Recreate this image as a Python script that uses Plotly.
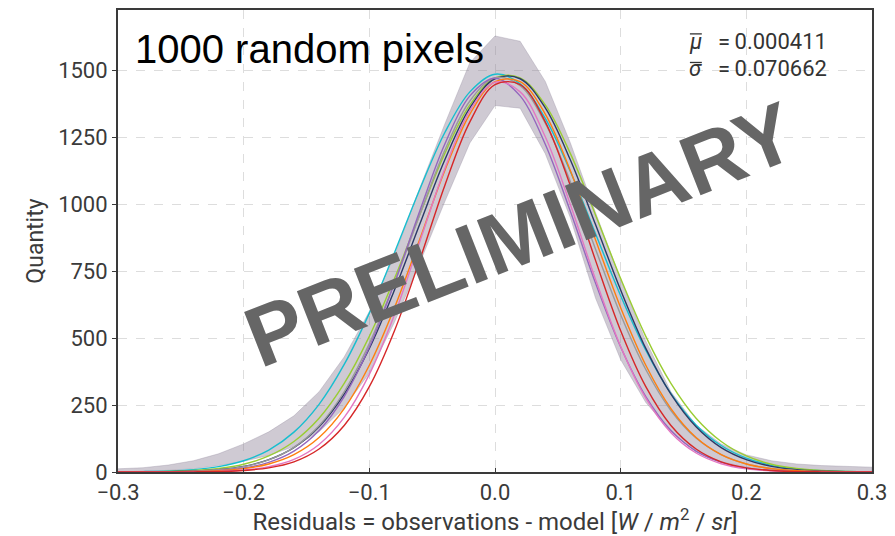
import plotly.graph_objects as go

# residual grid (bin centres) in W/m^2/sr
x_grid = [-0.30, -0.28, -0.26, -0.24, -0.22, -0.20, -0.18, -0.16, -0.14, -0.12, -0.10,
          -0.08, -0.06, -0.04, -0.02, 0.00, 0.02, 0.04, 0.06, 0.08, 0.10,
          0.12, 0.14, 0.16, 0.18, 0.20, 0.22, 0.24, 0.26, 0.28, 0.30]

# envelope of the 1000 pixel histograms
hist_upper = [12, 16, 26, 42, 68, 105, 150, 210, 300, 430, 600,
              810, 1060, 1300, 1530, 1630, 1610, 1460, 1230, 970, 720,
              490, 300, 175, 105, 64, 42, 30, 24, 20, 18]
hist_lower = [0, 2, 6, 12, 24, 40, 62, 95, 150, 240, 370,
              560, 780, 1010, 1230, 1370, 1360, 1190, 950, 650, 420,
              260, 150, 75, 38, 18, 9, 5, 3, 2, 1]

# Gaussian fits of individual pixels
fit_cyan = [0.5, 1.5, 3.7, 9.0, 20, 42, 82, 149, 253, 402, 594, 820, 1055, 1268, 1421, 1487,
            1451, 1322, 1123, 891, 659, 455, 293, 176, 99, 52, 25, 11.5, 4.9, 1.9, 0.7]
fit_olive = [0.3, 0.8, 2.3, 5.7, 13, 29, 60, 114, 201, 331, 507, 723, 961, 1190, 1372, 1473,
             1473, 1372, 1190, 961, 723, 507, 331, 201, 114, 60, 29, 13, 5.7, 2.3, 0.8]
fit_navy = [0.1, 0.4, 1.3, 3.6, 9, 21, 46, 91, 169, 291, 462, 680, 925, 1166, 1361, 1470,
            1470, 1361, 1166, 925, 680, 462, 291, 169, 91, 46, 21, 9, 3.6, 1.3, 0.4]
fit_gray = [0.1, 0.4, 1.1, 3.2, 8.4, 20.3, 45, 92, 173, 300, 480, 707, 960, 1202, 1387, 1474,
            1444, 1304, 1085, 833, 588, 383, 230, 127, 65, 30.5, 13.2, 5.3, 1.9, 0.7, 0.2]
fit_orange = [0, 0.2, 0.6, 1.7, 4.8, 12.5, 30, 65, 129, 237, 399, 614, 868, 1126, 1338, 1459,
              1459, 1338, 1126, 868, 614, 399, 237, 129, 65, 30, 12.5, 4.8, 1.7, 0.6, 0.2]
fit_purple = [0, 0.2, 0.6, 2.0, 5.7, 15, 36, 78, 155, 282, 467, 706, 974, 1225, 1406, 1472,
              1406, 1225, 974, 706, 467, 282, 155, 78, 36, 15, 5.7, 2.0, 0.6, 0.2, 0]
fit_red = [0, 0, 0.2, 0.6, 1.9, 5.7, 15.5, 38, 86, 174, 319, 528, 791, 1070, 1309, 1448,
           1448, 1309, 1070, 791, 528, 319, 174, 86, 38, 15.5, 5.7, 1.9, 0.6, 0.2, 0]
fit_pink = [0, 0, 0.2, 0.8, 2.5, 7.3, 19.6, 47, 103, 204, 365, 588, 859, 1133, 1351, 1457,
            1421, 1253, 999, 720, 469, 276, 147, 71, 31, 12.1, 4.3, 1.4, 0.4, 0.1, 0]

fits = [
    (fit_cyan, "#17becf"),
    (fit_olive, "#9acd32"),
    (fit_navy, "#2b3a67"),
    (fit_gray, "#9a9a9a"),
    (fit_purple, "#9467bd"),
    (fit_orange, "#ff7f0e"),
    (fit_pink, "#e377c2"),
    (fit_red, "#d62728"),
]

x_ticks = [-0.3, -0.2, -0.1, 0.0, 0.1, 0.2, 0.3]
x_tick_labels = ["\u22120.3", "\u22120.2", "\u22120.1", "0.0", "0.1", "0.2", "0.3"]
y_ticks = [0, 250, 500, 750, 1000, 1250, 1500]
y_tick_labels = ["0", "250", "500", "750", "1000", "1250", "1500"]

mean_mu = "0.000411"
mean_sigma = "0.070662"

fig = go.Figure()

# histogram envelope
fig.add_trace(go.Scatter(
    x=x_grid + x_grid[::-1],
    y=hist_upper + hist_lower[::-1],
    fill="toself",
    fillcolor="rgba(140,128,150,0.42)",
    line=dict(width=1, color="rgba(150,140,160,0.35)"),
    mode="lines",
    hoverinfo="skip",
))

for vals, col in fits:
    fig.add_trace(go.Scatter(
        x=x_grid, y=vals, mode="lines",
        line=dict(color=col, width=1.4, shape="spline"),
    ))

axis_font = dict(family="Roboto", size=22, color="#3a3a3a")

fig.update_layout(
    width=895, height=536,
    margin=dict(l=118, r=15, t=8, b=64),
    plot_bgcolor="white", paper_bgcolor="white",
    showlegend=False,
    font=dict(family="Roboto", color="#3a3a3a"),
    xaxis=dict(
        range=[-0.3, 0.3], tickvals=x_ticks, ticktext=x_tick_labels,
        showgrid=True, gridcolor="#dddddd", griddash="dash", gridwidth=1,
        showline=True, linecolor="#3a3a3a", linewidth=2, mirror=True,
        ticks="inside", ticklen=4, tickcolor="#3a3a3a",
        tickfont=axis_font, zeroline=False, ticklabeloverflow="allow",
        title=dict(text="Residuals = observations - model [<i>W</i> / <i>m</i><sup>2</sup> / <i>sr</i>]",
                   font=dict(family="Roboto", size=24, color="#3a3a3a"), standoff=2),
    ),
    yaxis=dict(
        range=[0, 1727], tickvals=y_ticks, ticktext=y_tick_labels,
        showgrid=True, gridcolor="#dddddd", griddash="dash", gridwidth=1,
        showline=True, linecolor="#3a3a3a", linewidth=2, mirror=True,
        ticks="outside", ticklen=4, tickcolor="#3a3a3a",
        tickfont=axis_font, zeroline=False,
        title=dict(text="Quantity", font=dict(family="Roboto", size=23, color="#3a3a3a"), standoff=8),
    ),
)

fig.add_annotation(
    text="1000 random pixels", xref="paper", yref="paper",
    x=0.0197, y=0.916, xanchor="left", yanchor="middle", showarrow=False,
    font=dict(family="Liberation Sans", size=40, color="black"),
)

stat_font = dict(family="Roboto", size=22, color="#333333")
fig.add_annotation(text="=\u2009" + mean_mu, xref="paper", yref="paper",
                   x=0.9436, y=0.931, xanchor="right", yanchor="middle",
                   showarrow=False, font=stat_font)
fig.add_annotation(text="=\u2009" + mean_sigma, xref="paper", yref="paper",
                   x=0.9436, y=0.8728, xanchor="right", yanchor="middle",
                   showarrow=False, font=stat_font)
fig.add_annotation(text="<i>\u03bc</i>", xref="paper", yref="paper",
                   x=0.7664, y=0.931, xanchor="center", yanchor="middle",
                   showarrow=False, font=stat_font)
fig.add_annotation(text="<i>\u03c3</i>", xref="paper", yref="paper",
                   x=0.7664, y=0.8728, xanchor="center", yanchor="middle",
                   showarrow=False, font=stat_font)
# overbars on the symbols
fig.add_shape(type="line", xref="paper", yref="paper", x0=0.7585, x1=0.7743,
              y0=0.9483, y1=0.9483, line=dict(color="#333333", width=1.3))
fig.add_shape(type="line", xref="paper", yref="paper", x0=0.7585, x1=0.7743,
              y0=0.8864, y1=0.8864, line=dict(color="#333333", width=1.3))

fig.add_annotation(
    text="<b>PRELIMINARY</b>", xref="paper", yref="paper",
    x=0.533, y=0.515, xanchor="center", yanchor="middle", showarrow=False,
    textangle=-21.5,
    font=dict(family="Liberation Sans", size=85, color="#666666"),
)

fig.write_html("out.html")
